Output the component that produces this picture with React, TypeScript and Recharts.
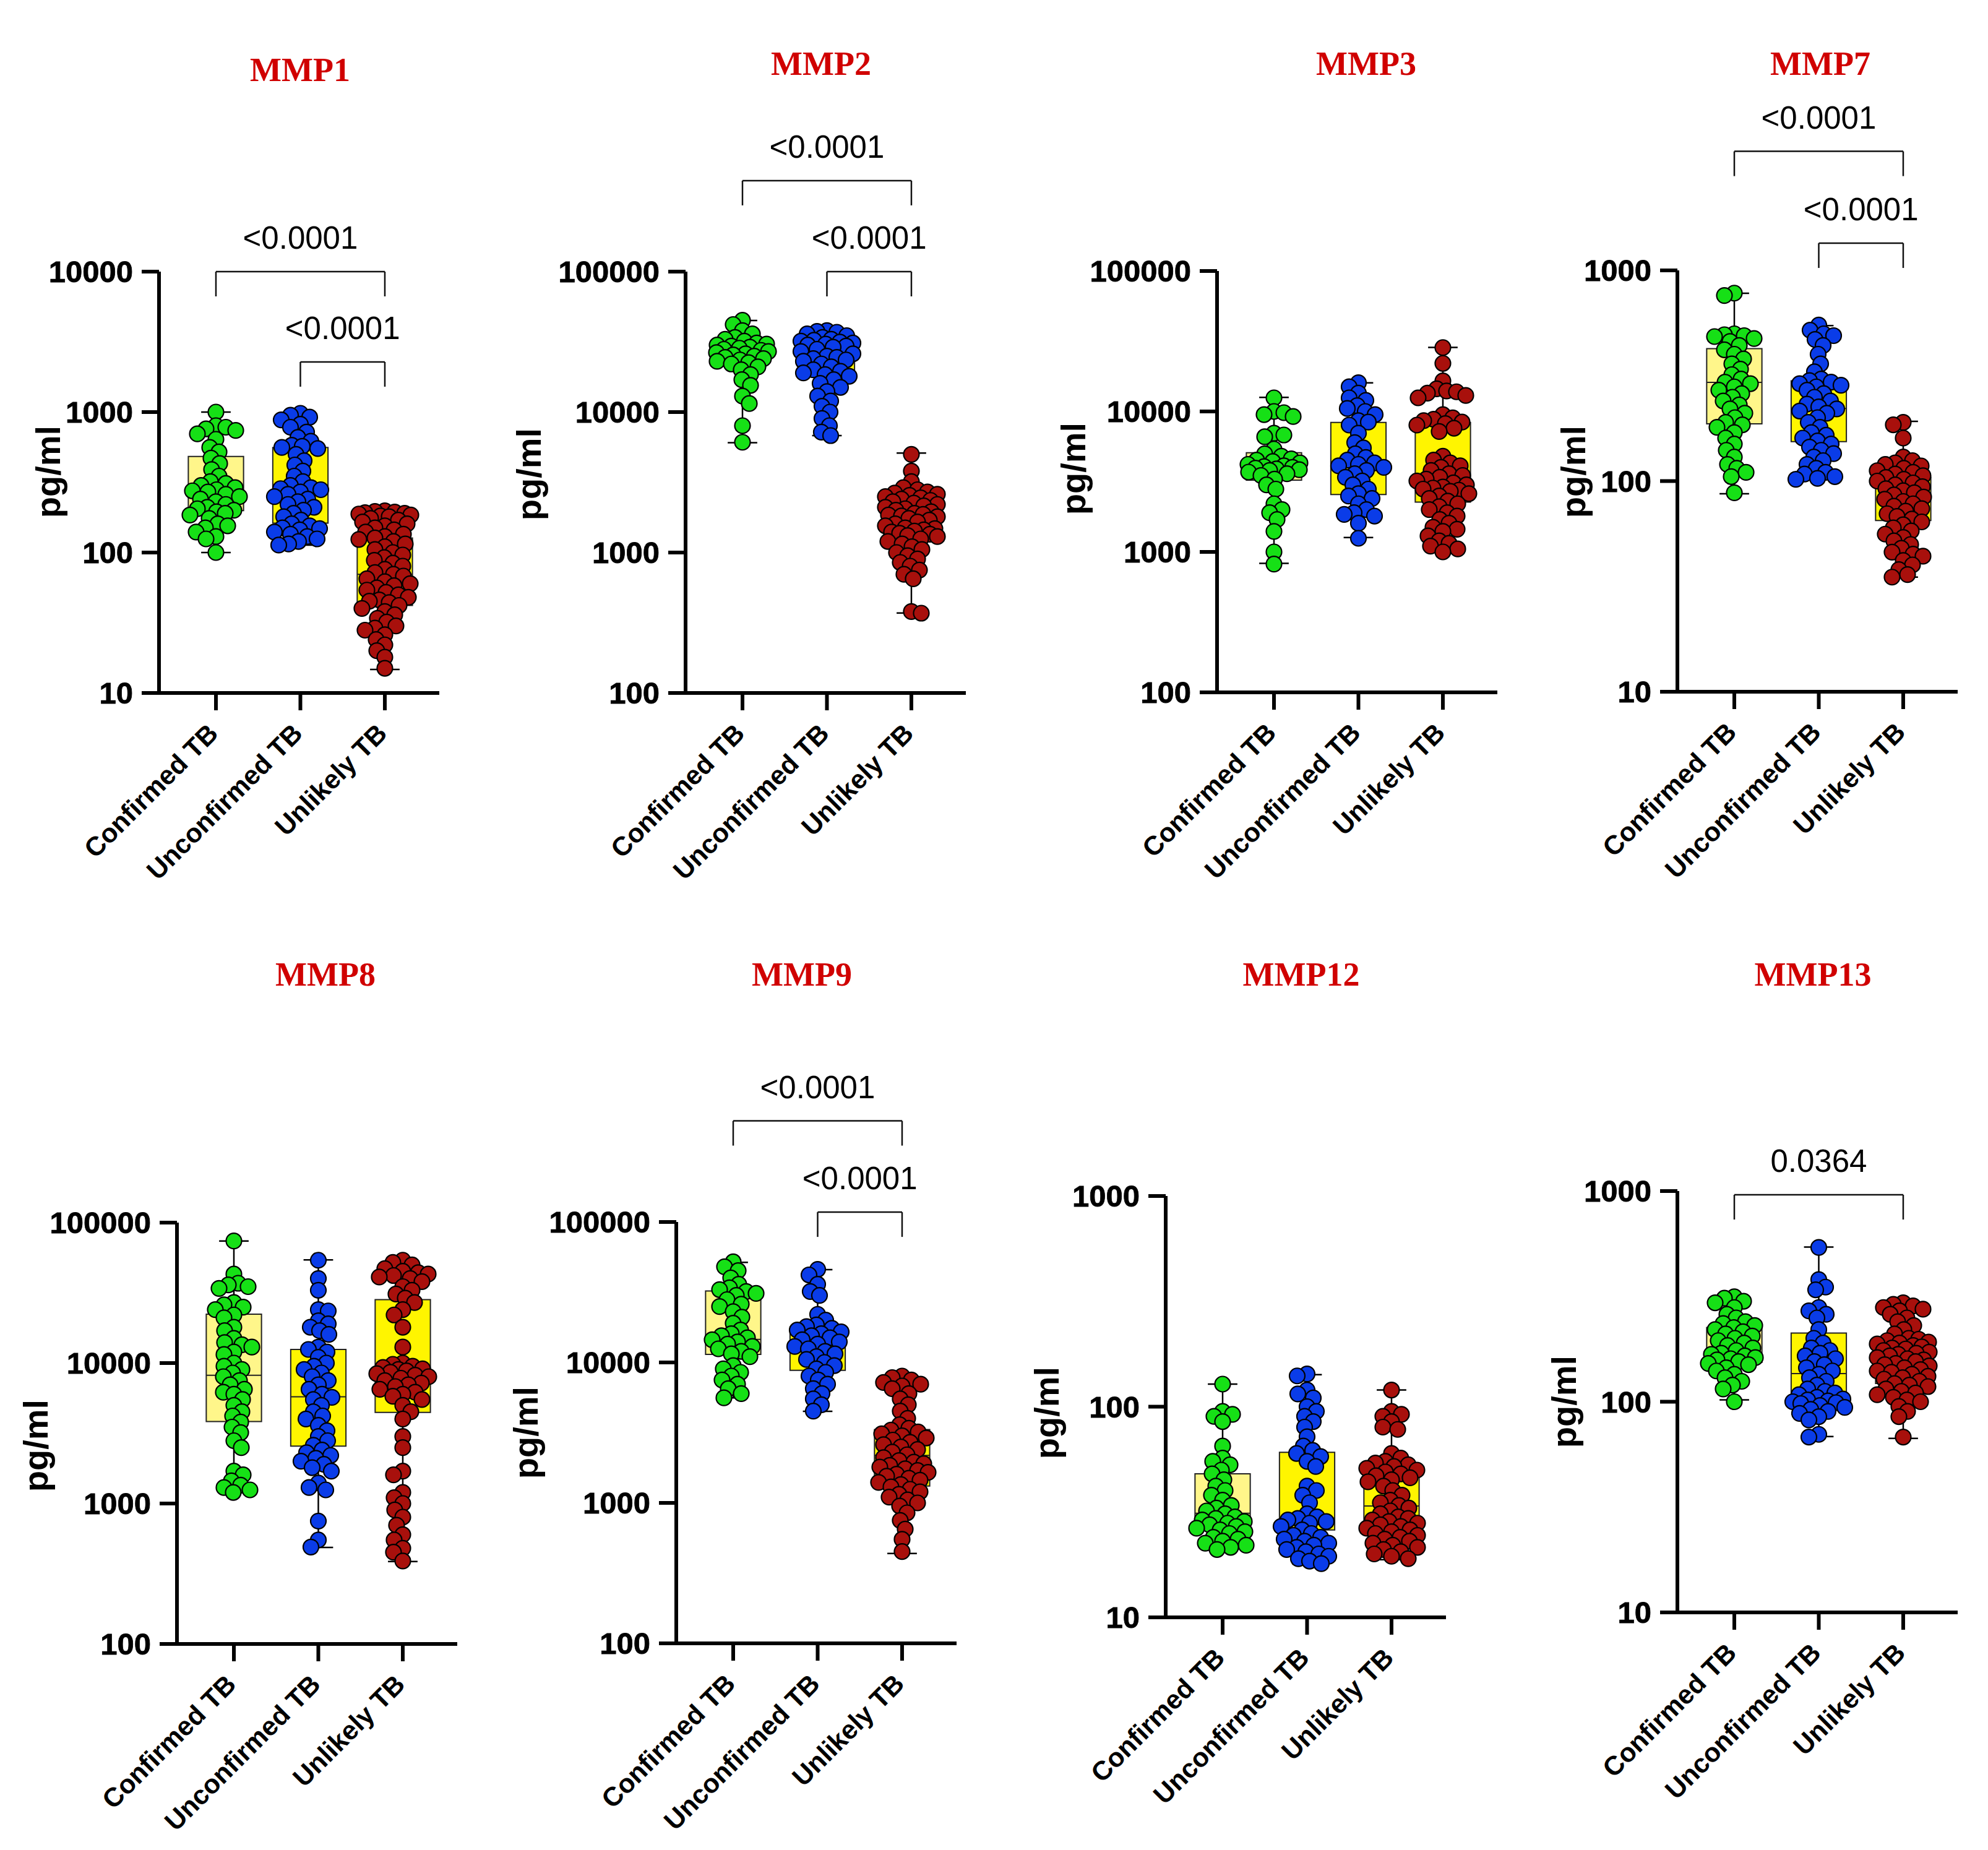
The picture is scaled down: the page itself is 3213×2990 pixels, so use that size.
import React from 'react';
import { ComposedChart, XAxis, YAxis, Scatter, ReferenceArea, ReferenceLine } from 'recharts';

// ---------------- DATA ----------------
const categories = ['Confirmed TB', 'Unconfirmed TB', 'Unlikely TB'];
const titles = ['MMP1', 'MMP2', 'MMP3', 'MMP7', 'MMP8', 'MMP9', 'MMP12', 'MMP13'];

// MMP1
const mmp1Confirmed = [1000, 800, 780, 760, 740, 700, 640, 560, 520, 470, 430, 390, 350, 320, 310, 300, 290, 280, 275, 270, 260, 250, 240, 230, 220, 210, 205, 200, 195, 190, 185, 175, 160, 155, 150, 140, 130, 125, 100];
const mmp1Unconfirmed = [980, 950, 920, 880, 820, 780, 720, 660, 620, 580, 570, 560, 550, 500, 450, 420, 380, 350, 320, 300, 290, 285, 280, 270, 260, 250, 240, 230, 220, 210, 200, 190, 180, 170, 160, 155, 150, 148, 145, 140, 135, 130, 125, 120, 115, 113];
const mmp1Unlikely = [198, 196, 194, 192, 190, 188, 185, 182, 180, 175, 170, 165, 160, 155, 150, 145, 140, 135, 130, 127, 124, 120, 115, 110, 105, 100, 96, 92, 88, 84, 80, 76, 72, 70, 68, 65, 62, 60, 58, 56, 54, 52, 50, 48, 46, 45, 44, 42, 40, 38, 36, 34, 32, 30, 29, 28, 26, 24, 22, 20, 18, 15];
// MMP2
const mmp2Confirmed = [45000, 42000, 38000, 36000, 34000, 33000, 32000, 31000, 30500, 30000, 29500, 29000, 28500, 28000, 27500, 27000, 26500, 26000, 25500, 25000, 24500, 24000, 23500, 23000, 22500, 22000, 21000, 20000, 18500, 17000, 15500, 13000, 11500, 8000, 6100];
const mmp2Unconfirmed = [38000, 37500, 37000, 36000, 35000, 34000, 33000, 32500, 32000, 31500, 31000, 30500, 30000, 29500, 29000, 28000, 27000, 26000, 25000, 24500, 24000, 23500, 23000, 22000, 21000, 20000, 19500, 19000, 18500, 18000, 17000, 16000, 15000, 14000, 13000, 12000, 11000, 10000, 9000, 8000, 7200, 6800];
const mmp2Unlikely = [5000, 3800, 3200, 2900, 2800, 2700, 2650, 2600, 2550, 2500, 2450, 2400, 2350, 2300, 2250, 2200, 2150, 2100, 2050, 2000, 1950, 1900, 1870, 1850, 1820, 1800, 1750, 1700, 1650, 1600, 1550, 1500, 1480, 1450, 1420, 1400, 1370, 1350, 1320, 1300, 1250, 1200, 1150, 1100, 1050, 1000, 950, 900, 850, 800, 750, 700, 650, 380, 370];
// MMP3
const mmp3Confirmed = [12500, 10000, 9800, 9500, 9200, 7000, 6800, 6600, 5400, 5000, 4800, 4600, 4500, 4400, 4300, 4200, 4100, 4050, 4000, 3950, 3900, 3850, 3800, 3700, 3600, 3500, 3300, 3000, 2800, 2200, 2000, 1900, 1700, 1400, 1000, 820];
const mmp3Unconfirmed = [16000, 15000, 13500, 12500, 12000, 11000, 10500, 10000, 9500, 8600, 8400, 8000, 7000, 6000, 5500, 5000, 4700, 4500, 4300, 4200, 4100, 4000, 3800, 3600, 3400, 3200, 3000, 2800, 2600, 2500, 2400, 2200, 2000, 1900, 1850, 1800, 1600, 1250];
const mmp3Unlikely = [28500, 22000, 16500, 14500, 14000, 13800, 13500, 13000, 12500, 9500, 9000, 8800, 8600, 8400, 8200, 8000, 7600, 7200, 4800, 4500, 4300, 4100, 4000, 3800, 3600, 3500, 3400, 3300, 3200, 3100, 3000, 2900, 2850, 2800, 2750, 2700, 2600, 2500, 2400, 2300, 2200, 2100, 2000, 1900, 1800, 1700, 1600, 1500, 1450, 1400, 1300, 1200, 1150, 1100, 1050, 1000];
// MMP7
const mmp7Confirmed = [780, 760, 500, 495, 490, 485, 475, 460, 440, 420, 400, 380, 360, 340, 320, 305, 295, 290, 280, 270, 260, 250, 240, 230, 220, 210, 200, 190, 185, 180, 170, 160, 150, 140, 130, 120, 115, 110, 105, 88];
const mmp7Unconfirmed = [550, 520, 500, 490, 470, 440, 400, 360, 330, 305, 300, 295, 290, 285, 280, 270, 260, 250, 240, 232, 225, 220, 215, 210, 200, 190, 180, 170, 165, 160, 155, 150, 145, 140, 135, 130, 125, 120, 115, 110, 108, 105, 103, 102];
const mmp7Unlikely = [190, 185, 160, 130, 125, 122, 120, 118, 115, 112, 110, 108, 106, 104, 102, 100, 98, 96, 94, 92, 90, 88, 86, 84, 82, 80, 78, 76, 74, 72, 70, 68, 66, 64, 62, 60, 58, 56, 54, 52, 50, 48, 46, 45, 44, 42, 40, 38, 36, 35];
// MMP8
const mmp8Confirmed = [74000, 43000, 37000, 36000, 35000, 34000, 27000, 26000, 25000, 24000, 22000, 21000, 18000, 17000, 15000, 14000, 13500, 13000, 12000, 11500, 10000, 9500, 9000, 8500, 8000, 7500, 7000, 6500, 6200, 6000, 5500, 5000, 4500, 4200, 3800, 3500, 3200, 2800, 2500, 1700, 1600, 1450, 1350, 1300, 1250, 1200];
const mmp8Unconfirmed = [54000, 40000, 33000, 24000, 23500, 20000, 19000, 18000, 17000, 16000, 13000, 12500, 12000, 11000, 10000, 9500, 9000, 8500, 8000, 7500, 7000, 6500, 6000, 5700, 5500, 5000, 4500, 4200, 4000, 3600, 3300, 3000, 2800, 2600, 2400, 2300, 2200, 2100, 2000, 1900, 1800, 1700, 1400, 1300, 1250, 750, 550, 490];
const mmp8Unlikely = [54000, 52000, 50000, 47000, 45000, 44000, 43000, 42000, 41000, 40000, 38000, 35000, 33000, 31000, 29000, 27000, 24000, 22000, 18000, 13000, 10000, 9800, 9500, 9300, 9100, 9000, 8800, 8600, 8400, 8200, 8000, 7800, 7500, 7200, 7000, 6800, 6500, 6200, 6000, 5800, 5500, 5000, 4500, 4000, 3000, 2500, 1700, 1600, 1200, 1100, 1000, 900, 800, 700, 600, 550, 480, 450, 390];
// MMP9
const mmp9Confirmed = [52000, 48000, 45000, 40000, 36000, 34000, 33000, 32000, 31000, 30000, 28000, 26000, 25000, 23000, 21000, 19000, 17000, 16000, 15500, 15000, 14500, 14000, 13500, 13000, 12500, 12000, 11500, 11000, 9500, 9000, 8500, 8000, 7500, 7000, 6500, 6000, 5600];
const mmp9Unconfirmed = [46000, 42000, 36000, 32000, 30000, 22000, 20000, 18500, 18000, 17500, 17000, 16500, 16000, 15500, 15000, 14500, 14000, 13500, 13000, 12500, 12000, 11500, 11000, 10500, 10000, 9500, 9000, 8500, 8000, 7500, 7000, 6500, 6000, 5500, 5000, 4500];
const mmp9Unlikely = [8000, 7800, 7500, 7200, 7000, 6800, 6500, 6000, 5500, 5000, 4500, 4000, 3600, 3400, 3300, 3200, 3100, 3000, 2900, 2800, 2700, 2600, 2500, 2400, 2300, 2200, 2100, 2000, 1950, 1900, 1850, 1800, 1750, 1700, 1650, 1600, 1550, 1500, 1450, 1400, 1350, 1300, 1250, 1200, 1150, 1100, 1050, 1000, 950, 850, 750, 650, 550, 450];
// MMP12
const mmp12Confirmed = [128, 95, 92, 90, 85, 65, 57, 55, 53, 50, 48, 45, 42, 40, 38, 36, 34, 33, 32, 31, 30, 29.5, 29, 28.5, 28, 27.5, 27, 26.5, 26, 25.5, 25, 24, 23.5, 23, 22.5, 22, 21.5, 21];
const mmp12Unconfirmed = [143, 140, 120, 115, 110, 100, 95, 90, 85, 80, 72, 65, 62, 60, 58, 55, 52, 42, 40, 38, 35, 31, 30, 29.5, 29, 28.5, 28, 27, 26, 25, 24.5, 24, 23.5, 23, 22.5, 22, 21.5, 21, 20.5, 20, 19.5, 19, 18.5, 18];
const mmp12Unlikely = [120, 95, 92, 90, 85, 80, 78, 60, 57, 55, 54, 53, 52, 51, 50, 49, 48, 47, 46, 45, 44, 42, 40, 38, 36, 35, 34, 33, 32, 31, 30, 29.5, 29, 28.5, 28, 27.5, 27, 26.5, 26, 25.5, 25, 24.5, 24, 23.5, 23, 22.5, 22, 21.5, 21, 20.5, 20, 19.5, 19];
// MMP13
const mmp13Confirmed = [315, 310, 300, 295, 280, 260, 250, 240, 235, 230, 225, 220, 215, 210, 205, 200, 195, 190, 185, 180, 175, 170, 168, 165, 162, 160, 158, 155, 152, 150, 145, 140, 135, 130, 125, 120, 115, 100];
const mmp13Unconfirmed = [540, 380, 350, 340, 280, 270, 260, 250, 220, 200, 190, 180, 175, 170, 165, 160, 155, 150, 145, 140, 135, 130, 125, 120, 115, 112, 110, 108, 105, 103, 102, 101, 100, 99, 98, 96, 94, 92, 90, 88, 85, 82, 70, 68];
const mmp13Unlikely = [295, 290, 285, 280, 275, 270, 260, 250, 240, 230, 220, 210, 200, 198, 195, 192, 190, 188, 185, 182, 180, 178, 175, 172, 170, 168, 165, 162, 160, 158, 155, 152, 150, 148, 145, 142, 140, 138, 135, 132, 130, 128, 125, 122, 120, 118, 115, 112, 110, 108, 105, 102, 100, 95, 90, 85, 68];

// Box stats per group: [min, q1, median, q3, max]
const mmp1Boxes = [[100, 199, 277, 483, 1000], [113, 162, 280, 560, 980], [14.7, 42, 70, 127, 195]];
const mmp2Boxes = [[6060, 23200, 26200, 29900, 44900], [6800, 18800, 24300, 30800, 37900], [371, 1300, 1850, 2300, 5110]];
const mmp3Boxes = [[829, 3240, 4050, 5080, 12600], [1265, 2560, 4290, 8360, 16000], [1020, 2260, 2860, 8360, 28600]];
const mmp7Boxes = [[87, 187, 294, 425, 778], [102, 154, 221, 299, 547], [35, 65, 92, 104, 192]];
const mmp8Boxes = [[1200, 3830, 8190, 22300, 74000], [487, 2560, 5750, 12500, 54300], [386, 4450, 8900, 28300, 54300]];
const mmp9Boxes = [[5590, 11400, 14600, 32300, 51600], [4490, 8780, 12800, 17900, 45800], [436, 1320, 2180, 3330, 7940]];
const mmp12Boxes = [[21, 26.9, 31.2, 48, 128], [17.9, 26, 29.6, 60.7, 142], [18.8, 27.5, 33.8, 49.1, 120]];
const mmp13Boxes = [[102, 154, 170, 225, 314], [68.4, 103, 136, 212, 542], [67, 122, 166, 197, 298]];

// Significance brackets: groups compared, bracket level (data units), p-value text
const mmp1Brackets = [{ from: 1, to: 3, y: 10000, label: '<0.0001' }, { from: 2, to: 3, y: 2275, label: '<0.0001' }];
const mmp2Brackets = [{ from: 1, to: 3, y: 444600, label: '<0.0001' }, { from: 2, to: 3, y: 100000, label: '<0.0001' }];
const mmp7Brackets = [{ from: 1, to: 3, y: 3673, label: '<0.0001' }, { from: 2, to: 3, y: 1346, label: '<0.0001' }];
const mmp9Brackets = [{ from: 1, to: 3, y: 524800, label: '<0.0001' }, { from: 2, to: 3, y: 117500, label: '<0.0001' }];
const mmp13Brackets = [{ from: 1, to: 3, y: 960, label: '0.0364' }];

// Y axis ranges and ticks
const ticks10to1e4 = [10, 100, 1000, 10000];
const ticks100to1e5 = [100, 1000, 10000, 100000];
const ticks10to1e3 = [10, 100, 1000];

// ---------------- STYLE / LAYOUT ----------------
const groupColors = ['#16E016', '#0A3CE8', '#A8100C'];
const boxFills = ['#FFF68A', '#FFF500', '#FFF500'];
const TITLE_COLOR = '#D00000';
const SANS = 'Liberation Sans, Arial, Helvetica, sans-serif';
const SERIF = 'Liberation Serif, Times New Roman, serif';

const PLOT_W = 453;
const PLOT_H = 681;
const Y_AXIS_W = 300;
const TOP_M = 360;
const X_AXIS_H = 340;
const RIGHT_M = 12;
const X_DOMAIN: [number, number] = [0.326, 3.645];
const DOT_R = 12.5;
const BOX_HALF = 0.327;
const CAP_HALF = 0.175;

const layouts = [
  { axisX: 257, plotTop: 439, titleX: 485, titleY: 113, yLabelDx: -180, yLabelDy: -17 },
  { axisX: 1108, plotTop: 439, titleX: 1327, titleY: 103, yLabelDx: -254, yLabelDy: -13 },
  { axisX: 1967, plotTop: 438, titleX: 2208, titleY: 103, yLabelDx: -233, yLabelDy: -21 },
  { axisX: 2711, plotTop: 437, titleX: 2942, titleY: 103, yLabelDx: -169, yLabelDy: -15 },
  { axisX: 286, plotTop: 1976, titleX: 526, titleY: 1575, yLabelDx: -229, yLabelDy: 20 },
  { axisX: 1093, plotTop: 1975, titleX: 1296, titleY: 1575, yLabelDx: -244, yLabelDy: 0 },
  { axisX: 1884, plotTop: 1933, titleX: 2103, titleY: 1575, yLabelDx: -193, yLabelDy: 10 },
  { axisX: 2711, plotTop: 1925, titleX: 2930, titleY: 1575, yLabelDx: -184, yLabelDy: 0 },
];

const panels = [
  { title: titles[0], groups: [mmp1Confirmed, mmp1Unconfirmed, mmp1Unlikely], boxes: mmp1Boxes, brackets: mmp1Brackets, ticks: ticks10to1e4 },
  { title: titles[1], groups: [mmp2Confirmed, mmp2Unconfirmed, mmp2Unlikely], boxes: mmp2Boxes, brackets: mmp2Brackets, ticks: ticks100to1e5 },
  { title: titles[2], groups: [mmp3Confirmed, mmp3Unconfirmed, mmp3Unlikely], boxes: mmp3Boxes, brackets: [], ticks: ticks100to1e5 },
  { title: titles[3], groups: [mmp7Confirmed, mmp7Unconfirmed, mmp7Unlikely], boxes: mmp7Boxes, brackets: mmp7Brackets, ticks: ticks10to1e3 },
  { title: titles[4], groups: [mmp8Confirmed, mmp8Unconfirmed, mmp8Unlikely], boxes: mmp8Boxes, brackets: [], ticks: ticks100to1e5 },
  { title: titles[5], groups: [mmp9Confirmed, mmp9Unconfirmed, mmp9Unlikely], boxes: mmp9Boxes, brackets: mmp9Brackets, ticks: ticks100to1e5 },
  { title: titles[6], groups: [mmp12Confirmed, mmp12Unconfirmed, mmp12Unlikely], boxes: mmp12Boxes, brackets: [], ticks: ticks10to1e3 },
  { title: titles[7], groups: [mmp13Confirmed, mmp13Unconfirmed, mmp13Unlikely], boxes: mmp13Boxes, brackets: mmp13Brackets, ticks: ticks10to1e3 },
];

// Beeswarm layout: spreads points horizontally so they do not pile up (overlap allowed)
function swarm(values: number[], cat: number, pxPerDecade: number, pxPerUnit: number) {
  const minD = DOT_R * 2 * 0.64;
  const maxHalf = 42;
  const sorted = [...values].sort((a, b) => b - a);
  const placed: { px: number; py: number }[] = [];
  const out: { x: number; y: number }[] = [];
  sorted.forEach((v, i) => {
    const py = -Math.log10(v) * pxPerDecade;
    let chosen: number | null = null;
    let fallback = 0;
    let fallbackScore = -1;
    const sideFirst = i % 2 === 0 ? 1 : -1;
    for (let k = 0; k <= maxHalf && chosen === null; k += 1) {
      const cands = k === 0 ? [0] : [sideFirst * k, -sideFirst * k];
      for (const px of cands) {
        let md = Infinity;
        for (const p of placed) {
          const d = Math.hypot(p.px - px, p.py - py);
          if (d < md) md = d;
        }
        if (md >= minD) {
          chosen = px;
          break;
        }
        if (md > fallbackScore) {
          fallbackScore = md;
          fallback = px;
        }
      }
    }
    const px = chosen === null ? fallback : chosen;
    placed.push({ px, py });
    out.push({ x: cat + px / pxPerUnit, y: v });
  });
  return out;
}

const CatTick = (props: any) => {
  const { x, y, payload } = props;
  const name = categories[Math.round(payload.value) - 1];
  const ax = x + 6;
  const ay = y + 38;
  return (
    <text x={ax} y={ay} transform={`rotate(-45 ${ax} ${ay})`} textAnchor="end" fontFamily={SANS} fontWeight={700} fontSize={43} fill="#000">
      {name}
    </text>
  );
};

const makeDot = (color: string) => (p: any) => (
  <circle cx={p.cx} cy={p.cy} r={DOT_R} fill={color} stroke="#000" strokeWidth={2.2} />
);

function Panel({ cfg, layout }: { cfg: any; layout: any }) {
  const W = Y_AXIS_W + PLOT_W + RIGHT_M;
  const H = TOP_M + PLOT_H + X_AXIS_H;
  const yDomain: [number, number] = [cfg.ticks[0], cfg.ticks[cfg.ticks.length - 1]];
  const decades = Math.log10(yDomain[1] / yDomain[0]);
  const pxPerDecade = PLOT_H / decades;
  const pxPerUnit = PLOT_W / (X_DOMAIN[1] - X_DOMAIN[0]);
  const dropFactor = Math.pow(10, -40 / pxPerDecade);
  const swarms = cfg.groups.map((g: number[], i: number) => swarm(g, i + 1, pxPerDecade, pxPerUnit));

  const elems: any[] = [];
  cfg.boxes.forEach((b: number[], i: number) => {
    const c = i + 1;
    const [mn, q1, med, q3, mx] = b;
    elems.push(
      <ReferenceLine key={`wt${i}`} segment={[{ x: c, y: mx }, { x: c, y: q3 }]} stroke="#000" strokeWidth={2.5} ifOverflow="visible" />,
      <ReferenceLine key={`wb${i}`} segment={[{ x: c, y: q1 }, { x: c, y: mn }]} stroke="#000" strokeWidth={2.5} ifOverflow="visible" />,
      <ReferenceLine key={`ct${i}`} segment={[{ x: c - CAP_HALF, y: mx }, { x: c + CAP_HALF, y: mx }]} stroke="#000" strokeWidth={2.5} ifOverflow="visible" />,
      <ReferenceLine key={`cb${i}`} segment={[{ x: c - CAP_HALF, y: mn }, { x: c + CAP_HALF, y: mn }]} stroke="#000" strokeWidth={2.5} ifOverflow="visible" />,
      <ReferenceArea key={`bx${i}`} x1={c - BOX_HALF} x2={c + BOX_HALF} y1={q1} y2={q3} fill={boxFills[i]} fillOpacity={1} stroke="#222" strokeWidth={2} ifOverflow="visible" />,
      <ReferenceLine key={`md${i}`} segment={[{ x: c - BOX_HALF, y: med }, { x: c + BOX_HALF, y: med }]} stroke="#222" strokeWidth={2} ifOverflow="visible" />
    );
  });
  cfg.brackets.forEach((br: any, i: number) => {
    const low = br.y * dropFactor;
    elems.push(
      <ReferenceLine key={`bl${i}`} segment={[{ x: br.from, y: br.y }, { x: br.from, y: low }]} stroke="#111" strokeWidth={2.5} ifOverflow="visible" />,
      <ReferenceLine key={`br${i}`} segment={[{ x: br.to, y: br.y }, { x: br.to, y: low }]} stroke="#111" strokeWidth={2.5} ifOverflow="visible" />,
      <ReferenceLine
        key={`bh${i}`}
        segment={[{ x: br.from, y: br.y }, { x: br.to, y: br.y }]}
        stroke="#111"
        strokeWidth={2.5}
        ifOverflow="visible"
        label={(p: any) => {
          const vb = p.viewBox || {};
          return (
            <text x={(vb.x || 0) + (vb.width || 0) / 2} y={(vb.y || 0) - 37} textAnchor="middle" fontFamily={SANS} fontSize={51} fill="#000">
              {br.label}
            </text>
          );
        }}
      />
    );
  });

  return (
    <div style={{ position: 'absolute', left: layout.axisX - Y_AXIS_W, top: layout.plotTop - TOP_M }}>
      <ComposedChart width={W} height={H} margin={{ top: TOP_M, right: RIGHT_M, bottom: 0, left: 0 }}>
        <XAxis
          type="number"
          dataKey="x"
          domain={X_DOMAIN}
          ticks={[1, 2, 3]}
          interval={0}
          allowDataOverflow
          height={X_AXIS_H}
          tickSize={28}
          tickLine={{ stroke: '#000', strokeWidth: 6 }}
          axisLine={{ stroke: '#000', strokeWidth: 6 }}
          tick={(p: any) => <CatTick {...p} />}
        />
        <YAxis
          type="number"
          dataKey="y"
          scale="log"
          domain={yDomain}
          ticks={cfg.ticks}
          interval={0}
          allowDataOverflow
          width={Y_AXIS_W}
          tickSize={28}
          tickMargin={14}
          tickLine={{ stroke: '#000', strokeWidth: 6 }}
          axisLine={{ stroke: '#000', strokeWidth: 6 }}
          tick={{ fontSize: 49, fontWeight: 700, fill: '#000', fontFamily: SANS, stroke: '#000', strokeWidth: 0.8 }}
        />
        {elems}
        {swarms.map((s: any, i: number) => (
          <Scatter key={`s${i}`} data={s} shape={makeDot(groupColors[i])} isAnimationActive={false} />
        ))}
      </ComposedChart>
    </div>
  );
}

export default function App() {
  return (
    <div style={{ position: 'absolute', left: 0, top: 0, width: 3213, height: 2990, background: '#fff', overflow: 'hidden' }}>
      {panels.map((p, i) => (
        <Panel key={i} cfg={p} layout={layouts[i]} />
      ))}
      <svg width={3213} height={2990} style={{ position: 'absolute', left: 0, top: 0, pointerEvents: 'none' }}>
        {panels.map((p, i) => {
          const l = layouts[i];
          const ly = l.plotTop + PLOT_H / 2 + l.yLabelDy;
          const lx = l.axisX + l.yLabelDx;
          return (
            <g key={i}>
              <text x={l.titleX} y={l.titleY} textAnchor="middle" dominantBaseline="central" fontFamily={SERIF} fontWeight={700} fontSize={54} fill={TITLE_COLOR}>
                {p.title}
              </text>
              <text transform={`translate(${lx} ${ly}) rotate(-90)`} textAnchor="middle" dominantBaseline="central" fontFamily={SANS} fontWeight={700} fontSize={56} fill="#000">
                pg/ml
              </text>
            </g>
          );
        })}
      </svg>
    </div>
  );
}
